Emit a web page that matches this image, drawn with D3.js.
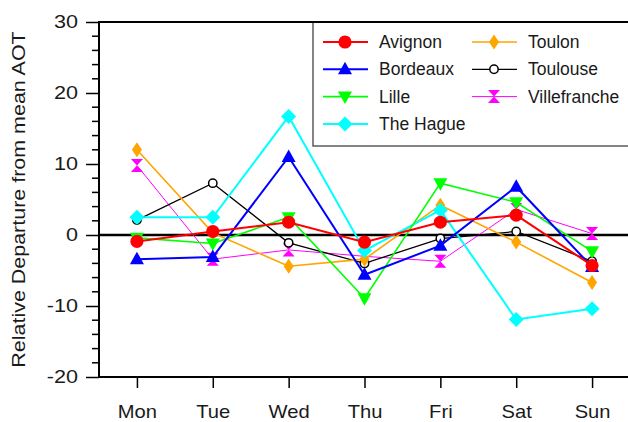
<!DOCTYPE html>
<html>
<head>
<meta charset="utf-8">
<script src="https://cdn.jsdelivr.net/npm/d3@7"></script>
<style>
  body { margin: 0; background: #fff; }
  text { font-family: "Liberation Sans", Arial, Helvetica, sans-serif; fill: #1a1a1a; }
</style>
</head>
<body>
<div id="chart"></div>
<script>
// days of week and departure (%) from mean AOT for each site
var days = ["Mon", "Tue", "Wed", "Thu", "Fri", "Sat", "Sun"];
var avignon      = [-0.9,  0.5,  1.8, -1.0,  1.8,   2.8,  -4.3];
var bordeaux     = [-3.4, -3.1, 11.0, -5.6, -1.5,   6.8,  -4.5];
var lille        = [-0.4, -1.2,  2.5, -8.9,  7.3,   4.6,  -2.3];
var theHague     = [ 2.5,  2.5, 16.7, -2.2,  3.5, -11.9, -10.4];
var toulon       = [12.0,  0.3, -4.4, -3.4,  4.2,  -1.0,  -6.7];
var toulouse     = [ 2.1,  7.3, -1.1, -4.0, -0.5,   0.5,  -3.7];
var villefranche = [ 9.8, -3.4, -2.1, -3.0, -3.7,   3.6,   0.2];
var yTicks = [-20, -10, 0, 10, 20, 30];
var yMinorTicks = d3.range(-20, 31, 2);

var W = 628, H = 422;
var pLeft = 99, pRight = 630, pTop = 22, pBottom = 377;

var series = [
  {name: "Avignon",      values: avignon,      color: "#ff0000", lw: 2,   marker: "circle"},
  {name: "Bordeaux",     values: bordeaux,     color: "#0000ff", lw: 2,   marker: "triUp"},
  {name: "Lille",        values: lille,        color: "#00ff00", lw: 1.6, marker: "triDown"},
  {name: "The Hague",    values: theHague,     color: "#00ffff", lw: 2,   marker: "diamond"},
  {name: "Toulon",       values: toulon,       color: "#ffa500", lw: 1.6, marker: "thinDiamond"},
  {name: "Toulouse",     values: toulouse,     color: "#000000", lw: 1.3, marker: "openCircle"},
  {name: "Villefranche", values: villefranche, color: "#ff00ff", lw: 1,   marker: "hourglass"}
];

var svg = d3.select("#chart").append("svg")
  .attr("width", W)
  .attr("height", H);

var x = d3.scalePoint()
  .domain(days)
  .range([pLeft, pRight])
  .padding(0.5);

var y = d3.scaleLinear()
  .domain([-20, 30])
  .range([pBottom, pTop]);

// the original font is a bit wider than Liberation Sans, stretch it sideways
function stretch(sel, sx) {
  sel.each(function() {
    var t = d3.select(this);
    var tx = +t.attr("x") || 0;
    t.attr("transform", "translate(" + tx + ",0) scale(" + sx + ",1) translate(" + (-tx) + ",0)");
  });
}

// marker shapes, drawn around 0,0
function markerPath(kind) {
  if (kind == "circle") return d3.symbol().type(d3.symbolCircle).size(135)();
  if (kind == "openCircle") return d3.symbol().type(d3.symbolCircle).size(55)();
  if (kind == "triUp" || kind == "triDown") return "M0,-7.5L7,5L-7,5Z";
  if (kind == "diamond") return "M0,-7.5L7.5,0L0,7.5L-7.5,0Z";
  if (kind == "thinDiamond") return "M0,-7.5L5,0L0,7.5L-5,0Z";
  if (kind == "hourglass") return "M-6,-6.5L6,-6.5L0,0L6,6.5L-6,6.5L0,0Z";
}

function drawMarker(g, s, cx, cy) {
  var m = g.append("path")
    .attr("d", markerPath(s.marker))
    .attr("transform", "translate(" + cx + "," + cy + ")" + (s.marker == "triDown" ? " rotate(180)" : ""));
  if (s.marker == "openCircle") {
    m.attr("fill", "#fff").attr("stroke", s.color).attr("stroke-width", 1.5);
  } else {
    m.attr("fill", s.color);
  }
}

// zero reference line
svg.append("line")
  .attr("x1", pLeft).attr("x2", pRight)
  .attr("y1", y(0)).attr("y2", y(0))
  .attr("stroke", "#000")
  .attr("stroke-width", 2.5);

var line = d3.line()
  .x(function(d, i) { return x(days[i]); })
  .y(function(d) { return y(d); });

// last series first so Avignon ends up on top
series.slice().reverse().forEach(function(s) {
  var g = svg.append("g");
  g.append("path")
    .datum(s.values)
    .attr("fill", "none")
    .attr("stroke", s.color)
    .attr("stroke-width", s.lw)
    .attr("d", line);
  s.values.forEach(function(v, i) {
    drawMarker(g, s, x(days[i]), y(v));
  });
});

// frame
svg.append("rect")
  .attr("x", pLeft).attr("y", pTop)
  .attr("width", pRight - pLeft).attr("height", pBottom - pTop)
  .attr("fill", "none")
  .attr("stroke", "#000")
  .attr("stroke-width", 2);

// y axis with minor ticks (plain hyphen for negatives, like the original)
var yAxis = svg.append("g")
  .attr("transform", "translate(" + pLeft + ",0)")
  .call(d3.axisLeft(y).tickValues(yTicks).tickSize(13).tickPadding(8)
    .tickFormat(function(d) { return String(d); }));
yAxis.select(".domain").remove();
yAxis.selectAll(".tick line").attr("stroke", "#000").attr("stroke-width", 1.5);
yAxis.selectAll(".tick text")
  .attr("font-size", 18)
  .attr("fill", "#1a1a1a")
  .style("font-family", "'Liberation Sans', Arial, sans-serif")
  .call(stretch, 1.2);

svg.append("g").selectAll("line")
  .data(yMinorTicks.filter(function(d) { return yTicks.indexOf(d) < 0; }))
  .enter().append("line")
  .attr("x1", pLeft - 7).attr("x2", pLeft)
  .attr("y1", function(d) { return y(d); })
  .attr("y2", function(d) { return y(d); })
  .attr("stroke", "#000")
  .attr("stroke-width", 1.5);

// x axis
var xAxis = svg.append("g")
  .attr("transform", "translate(0," + pBottom + ")")
  .call(d3.axisBottom(x).tickSize(11).tickPadding(17));
xAxis.select(".domain").remove();
xAxis.selectAll(".tick line").attr("stroke", "#000").attr("stroke-width", 1.5);
xAxis.selectAll(".tick text")
  .attr("font-size", 18)
  .attr("fill", "#1a1a1a")
  .style("font-family", "'Liberation Sans', Arial, sans-serif")
  .call(stretch, 1.12);

// y title
svg.append("text")
  .attr("transform", "translate(25," + ((pTop + pBottom) / 2) + ") rotate(-90) scale(1.13,1)")
  .attr("text-anchor", "middle")
  .attr("font-size", 19)
  .text("Relative Departure from mean AOT");

// legend
var legend = svg.append("g");
legend.append("rect")
  .attr("x", 313).attr("y", pTop)
  .attr("width", 330).attr("height", 146 - pTop)
  .attr("fill", "#fff")
  .attr("stroke", "#444")
  .attr("stroke-width", 1.3);

var colX = [323, 472];
series.forEach(function(s, i) {
  var col = i < 4 ? 0 : 1;
  var row = i < 4 ? i : i - 4;
  var ly = 42 + row * 27.3;
  var x0 = colX[col];
  var g = legend.append("g");
  g.append("line")
    .attr("x1", x0).attr("x2", x0 + 45)
    .attr("y1", ly).attr("y2", ly)
    .attr("stroke", s.color)
    .attr("stroke-width", s.lw);
  drawMarker(g, s, x0 + 22, ly);
  g.append("text")
    .attr("x", x0 + 56)
    .attr("y", ly)
    .attr("dy", "0.35em")
    .attr("font-size", 17.5)
    .text(s.name);
});

// top border over legend
svg.append("line")
  .attr("x1", pLeft).attr("x2", pRight)
  .attr("y1", pTop).attr("y2", pTop)
  .attr("stroke", "#000")
  .attr("stroke-width", 2);
</script>
</body>
</html>
